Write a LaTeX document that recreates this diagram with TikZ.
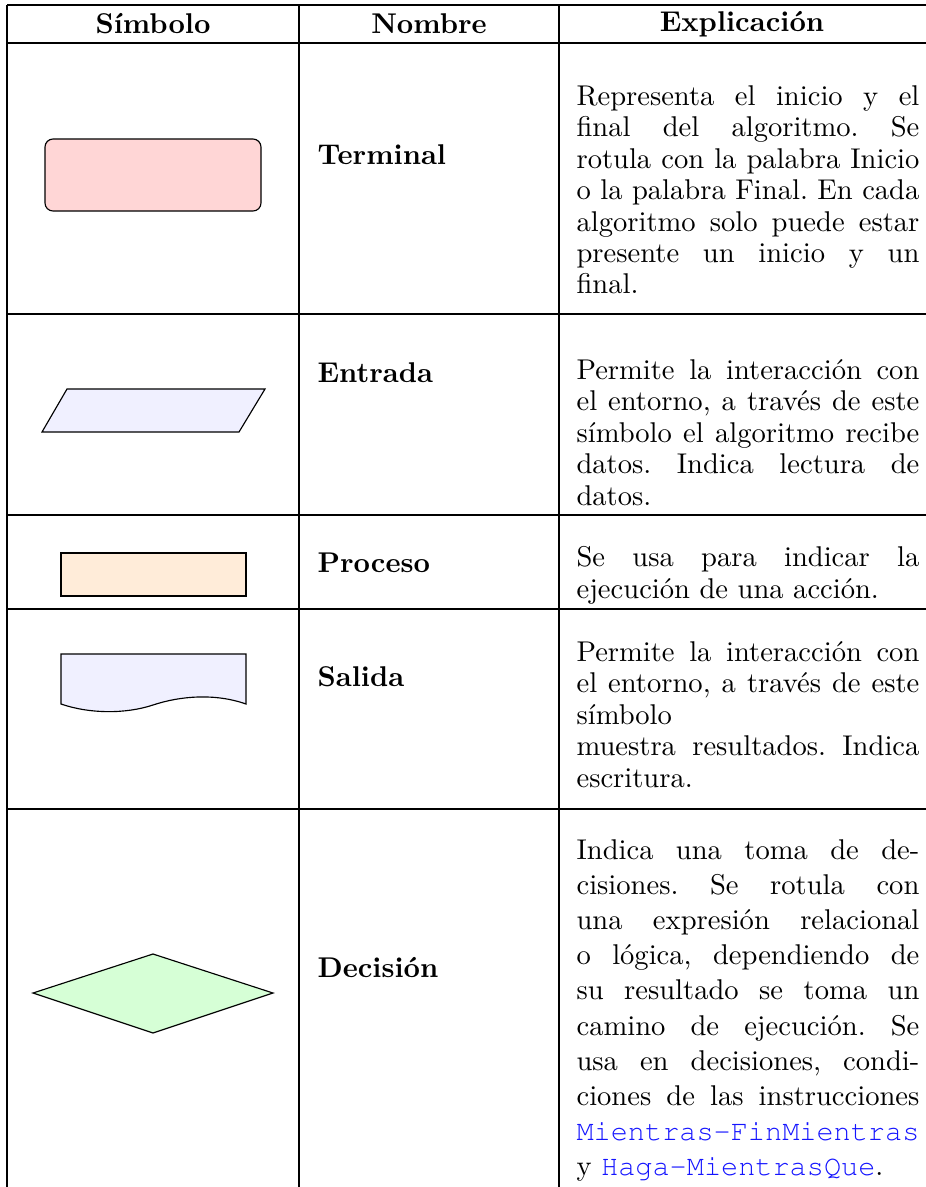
\documentclass[tikz,border=0pt]{standalone}
\usepackage{fontspec}
\newcommand{\codigo}{\fontencoding{OT1}\fontfamily{pcr}\selectfont}
\definecolor{azulcod}{RGB}{20,20,255}
\newcommand{\cod}[1]{\mbox{\codigo\textcolor{azulcod}{#1}}}
\frenchspacing
\tikzset{
  cabecera/.style={font=\bfseries},
  nombre/.style={font=\bfseries,anchor=base west,inner sep=0pt},
  texto/.style={text width=120pt,align=justify,anchor=north west,inner sep=0pt,
    font=\fontsize{10}{11}\selectfont},
  simbolo/.style={draw=black,line width=0.4pt}
}
\begin{document}
\begin{tikzpicture}[x=0.35pt,y=-0.35pt]
\useasboundingbox (0,0) rectangle (926,1187);
\clip (0,0) rectangle (926,1187);
% tabla
\draw (7,5) -- (926,5);
\draw (7,43) -- (926,43);
\draw (7,314) -- (926,314);
\draw (7,515) -- (926,515);
\draw (7,609) -- (926,609);
\draw (7,809) -- (926,809);
\draw (7,5) -- (7,1187);
\draw (299,5) -- (299,1187);
\draw (559,5) -- (559,1187);
\node[cabecera] (hsim) at (153,24) {Símbolo};
\node[cabecera] (hnom) at (429,24) {Nombre};
\node[cabecera] (hexp) at (742,24) {Explicación};
%
\filldraw[simbolo,fill=red!16,rounded corners=2.8pt] (45,139) rectangle (261,211);
\node[nombre] (nterm) at (317,164) {Terminal};
\node[texto] (eterm) at (576,85) {Representa el inicio y el\linebreak
  final del algoritmo. Se\linebreak rotula con la palabra Inicio\linebreak
  o la palabra Final. En cada\linebreak algoritmo solo puede estar\linebreak
  presente un inicio y un\linebreak final.};
%
\filldraw[simbolo,fill=blue!6] (67,389) -- (265,389) -- (239,432) -- (42,432) -- cycle;
\node[nombre] (nent) at (317,382) {Entrada};
\node[texto] (eent) at (576,359) {Permite la interacción con\linebreak
  el entorno, a través de este\linebreak símbolo el algoritmo recibe\linebreak
  datos. Indica lectura de\linebreak datos.};
%
\filldraw[simbolo,fill=orange!15] (61,553) rectangle (246,596);
\node[nombre] (npro) at (317,572) {Proceso};
\node[texto] (epro) at (576,546) {Se usa para indicar la\linebreak
  ejecución de una acción.};
%
\filldraw[simbolo,fill=blue!6] (61,654) -- (246,654) -- (246,704)
  .. controls (215,693) and (180,696) .. (153,705)
  .. controls (126,714) and (90,714) .. (61,704) -- cycle;
\node[nombre] (nsal) at (317,686) {Salida};
\node[texto] (esal) at (576,641) {Permite la interacción con\linebreak
  el entorno, a través de este\linebreak símbolo\\
  muestra resultados. Indica\linebreak escritura.};
%
\filldraw[simbolo,fill=green!16] (33,993) -- (153,954) -- (273,993) -- (153,1033) -- cycle;
\node[nombre] (ndec) at (317,977) {Decisión};
\node[texto,font=\fontsize{10}{12.3}\selectfont] (edec) at (576,839) {Indica una toma de de-\linebreak
  cisiones. Se rotula con\linebreak una expresión relacional\linebreak
  o lógica, dependiendo de\linebreak su resultado se toma un\linebreak
  camino de ejecución. Se\linebreak usa en decisiones, condi-\linebreak
  ciones de las instrucciones\linebreak \cod{Mientras-FinMientras}\linebreak
  y \cod{Haga-MientrasQue}.};
\end{tikzpicture}
\end{document}
